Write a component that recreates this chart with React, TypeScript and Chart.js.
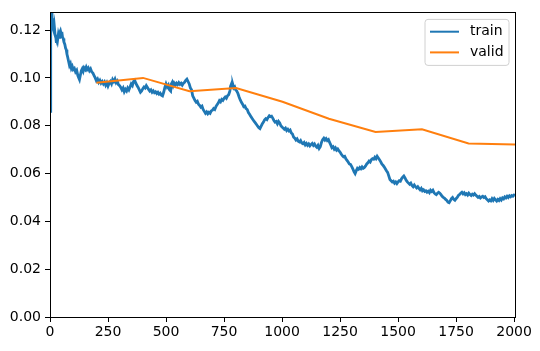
import React, { useEffect, useRef } from "react";
import { Chart, registerables } from "chart.js";

Chart.register(...registerables);

const trainSteps = [
  0, 2, 4, 6, 8, 10, 12, 14, 17, 19, 22, 25, 27, 30, 33, 36, 39, 42, 45, 48, 51, 54, 57, 60,
  64, 67, 70, 73, 76, 80, 84, 88, 92, 96, 100, 105, 110, 115, 120, 124, 127, 131, 135, 139, 143, 147,
  152, 156, 160, 165, 170, 175, 180, 185, 190, 195, 200, 205, 210, 215, 220, 225, 230, 235, 240, 245,
  250, 255, 260, 265, 270, 275, 280, 285, 290, 295, 300, 305, 310, 315, 320, 325, 330, 335, 340, 345,
  350, 355, 360, 365, 370, 375, 380, 385, 390, 395, 400, 405, 410, 415, 420, 425, 430, 435, 440, 445,
  450, 455, 460, 465, 470, 475, 480, 485, 490, 495, 500, 505, 510, 515, 520, 523, 527, 531, 535, 540,
  545, 550, 555, 560, 565, 570, 575, 580, 585, 590, 595, 600, 605, 610, 615, 620, 625, 630, 635, 640,
  645, 650, 655, 660, 665, 670, 675, 680, 685, 690, 695, 700, 705, 710, 715, 720, 725, 730, 735, 740,
  745, 750, 755, 760, 765, 770, 775, 778, 782, 785, 788, 792, 796, 800, 805, 810, 815, 820, 825, 830,
  835, 840, 845, 850, 855, 860, 865, 870, 875, 880, 885, 890, 895, 900, 905, 910, 915, 920, 925, 930,
  935, 940, 945, 950, 955, 960, 965, 970, 975, 980, 985, 990, 995, 1000, 1005, 1010, 1015, 1020, 1025,
  1030, 1035, 1040, 1045, 1050, 1055, 1060, 1065, 1070, 1075, 1080, 1085, 1090, 1095, 1100, 1105, 1110,
  1115, 1120, 1125, 1130, 1135, 1140, 1145, 1150, 1155, 1160, 1165, 1170, 1175, 1180, 1185, 1190, 1195,
  1200, 1205, 1210, 1215, 1220, 1225, 1230, 1235, 1240, 1245, 1250, 1255, 1260, 1265, 1270, 1275, 1280,
  1285, 1290, 1295, 1300, 1305, 1310, 1315, 1320, 1325, 1330, 1335, 1340, 1345, 1350, 1355, 1360, 1365,
  1370, 1375, 1380, 1385, 1390, 1395, 1400, 1405, 1410, 1415, 1420, 1425, 1430, 1435, 1440, 1445, 1450,
  1455, 1460, 1465, 1470, 1475, 1480, 1485, 1490, 1495, 1500, 1505, 1510, 1515, 1520, 1525, 1530, 1535,
  1540, 1545, 1550, 1555, 1560, 1565, 1570, 1575, 1580, 1585, 1590, 1595, 1600, 1605, 1610, 1615, 1620,
  1625, 1630, 1635, 1640, 1645, 1650, 1655, 1660, 1665, 1670, 1675, 1680, 1685, 1690, 1695, 1700, 1705,
  1710, 1715, 1720, 1725, 1730, 1735, 1740, 1745, 1750, 1755, 1760, 1765, 1770, 1775, 1780, 1785, 1790,
  1795, 1800, 1805, 1810, 1815, 1820, 1825, 1830, 1835, 1840, 1845, 1850, 1855, 1860, 1865, 1870, 1875,
  1880, 1885, 1890, 1895, 1900, 1905, 1910, 1915, 1920, 1925, 1930, 1935, 1940, 1945, 1950, 1955, 1960,
  1965, 1970, 1975, 1980, 1985, 1990, 1995, 2000, 2004,
];

const trainLoss = [
  0.0860, 0.1080, 0.1285, 0.1240, 0.1290, 0.1225, 0.1250, 0.1205, 0.1195, 0.1212, 0.1180, 0.1170,
  0.1152, 0.1175, 0.1160, 0.1182, 0.1170, 0.1190, 0.1197, 0.1185, 0.1192, 0.1170, 0.1165, 0.1150,
  0.1140, 0.1125, 0.1118, 0.1100, 0.1088, 0.1070, 0.1052, 0.1060, 0.1040, 0.1048, 0.1035, 0.1040,
  0.1025, 0.1032, 0.1010, 0.1000, 0.0993, 0.1012, 0.1030, 0.1038, 0.1028, 0.1042, 0.1035, 0.1045,
  0.1035, 0.1042, 0.1030, 0.1038, 0.1025, 0.1020, 0.1010, 0.1000, 0.0988, 0.0995, 0.0982, 0.0990,
  0.0978, 0.0985, 0.0975, 0.0983, 0.0970, 0.0980, 0.0966, 0.0978, 0.0985, 0.0975, 0.0993, 0.0985,
  0.0995, 0.0980, 0.0987, 0.0972, 0.0968, 0.0960, 0.0950, 0.0958, 0.0942, 0.0952, 0.0945, 0.0958,
  0.0950, 0.0962, 0.0975, 0.0968, 0.0985, 0.0990, 0.0978, 0.0968, 0.0960, 0.0950, 0.0940, 0.0945,
  0.0955, 0.0962, 0.0958, 0.0968, 0.0960, 0.0952, 0.0945, 0.0950, 0.0940, 0.0946, 0.0938, 0.0942,
  0.0935, 0.0940, 0.0932, 0.0936, 0.0928, 0.0925, 0.0940, 0.0960, 0.0975, 0.0962, 0.0970, 0.0950,
  0.0945, 0.0975, 0.0982, 0.0968, 0.0978, 0.0970, 0.0978, 0.0972, 0.0980, 0.0973, 0.0978, 0.0970,
  0.0978, 0.0982, 0.0990, 0.0995, 0.0985, 0.0975, 0.0958, 0.0950, 0.0925, 0.0915, 0.0905, 0.0898,
  0.0902, 0.0890, 0.0885, 0.0878, 0.0882, 0.0868, 0.0860, 0.0852, 0.0858, 0.0850, 0.0856, 0.0852,
  0.0862, 0.0865, 0.0872, 0.0868, 0.0880, 0.0888, 0.0895, 0.0905, 0.0900, 0.0910, 0.0906, 0.0915,
  0.0920, 0.0915, 0.0925, 0.0930, 0.0945, 0.0965, 0.0975, 0.0962, 0.0972, 0.0958, 0.0962, 0.0950,
  0.0945, 0.0935, 0.0920, 0.0908, 0.0898, 0.0890, 0.0880, 0.0882, 0.0872, 0.0868, 0.0855, 0.0848,
  0.0840, 0.0832, 0.0825, 0.0818, 0.0812, 0.0805, 0.0798, 0.0792, 0.0788, 0.0798, 0.0808, 0.0815,
  0.0825, 0.0830, 0.0826, 0.0835, 0.0842, 0.0838, 0.0840, 0.0832, 0.0822, 0.0815, 0.0818, 0.0808,
  0.0818, 0.0812, 0.0800, 0.0795, 0.0790, 0.0785, 0.0790, 0.0780, 0.0785, 0.0778, 0.0782, 0.0770,
  0.0765, 0.0752, 0.0748, 0.0740, 0.0745, 0.0735, 0.0732, 0.0738, 0.0728, 0.0725, 0.0730, 0.0720,
  0.0726, 0.0718, 0.0724, 0.0716, 0.0722, 0.0726, 0.0718, 0.0724, 0.0715, 0.0710, 0.0718, 0.0705,
  0.0712, 0.0730, 0.0742, 0.0748, 0.0740, 0.0746, 0.0738, 0.0742, 0.0730, 0.0720, 0.0708, 0.0712,
  0.0702, 0.0708, 0.0698, 0.0703, 0.0695, 0.0690, 0.0682, 0.0675, 0.0670, 0.0672, 0.0662, 0.0655,
  0.0648, 0.0640, 0.0638, 0.0630, 0.0620, 0.0608, 0.0600, 0.0612, 0.0622, 0.0618, 0.0625, 0.0620,
  0.0628, 0.0622, 0.0625, 0.0632, 0.0640, 0.0645, 0.0652, 0.0648, 0.0658, 0.0662, 0.0660, 0.0668,
  0.0662, 0.0672, 0.0665, 0.0658, 0.0650, 0.0640, 0.0635, 0.0628, 0.0620, 0.0612, 0.0605, 0.0590,
  0.0575, 0.0570, 0.0565, 0.0568, 0.0560, 0.0565, 0.0558, 0.0565, 0.0570, 0.0568, 0.0578, 0.0585,
  0.0590, 0.0582, 0.0572, 0.0565, 0.0560, 0.0555, 0.0560, 0.0550, 0.0545, 0.0552, 0.0545, 0.0540,
  0.0545, 0.0538, 0.0532, 0.0538, 0.0528, 0.0532, 0.0525, 0.0528, 0.0522, 0.0526, 0.0520, 0.0530,
  0.0525, 0.0530, 0.0520, 0.0515, 0.0512, 0.0518, 0.0522, 0.0518, 0.0512, 0.0505, 0.0500, 0.0497,
  0.0492, 0.0488, 0.0480, 0.0478, 0.0486, 0.0495, 0.0500, 0.0492, 0.0488, 0.0495, 0.0500, 0.0508,
  0.0512, 0.0518, 0.0522, 0.0515, 0.0520, 0.0512, 0.0516, 0.0510, 0.0518, 0.0512, 0.0508, 0.0514,
  0.0510, 0.0516, 0.0510, 0.0505, 0.0500, 0.0504, 0.0498, 0.0502, 0.0505, 0.0500, 0.0503, 0.0495,
  0.0490, 0.0485, 0.0490, 0.0486, 0.0495, 0.0488, 0.0496, 0.0490, 0.0485, 0.0492, 0.0487, 0.0495,
  0.0489, 0.0498, 0.0494, 0.0502, 0.0498, 0.0505, 0.0500, 0.0507, 0.0503, 0.0508, 0.0505, 0.0510,
  0.0508,
];

const validSteps = [200, 401, 601, 802, 1002, 1202, 1403, 1603, 1804, 2004];
const validLoss = [0.098, 0.1, 0.0944, 0.0958, 0.09, 0.0829, 0.0774, 0.0785, 0.0726, 0.0722];

const xTicks = [0, 250, 500, 750, 1000, 1250, 1500, 1750, 2000];
const yTicks = [0, 0.02, 0.04, 0.06, 0.08, 0.1, 0.12];

const X_MAX = 2004;
const Y_MAX = 0.1274;
const FONT = "'DejaVu Sans', sans-serif";

const framePlugin = {
  id: "frame",
  afterDatasetsDraw(chart: any) {
    const { ctx, chartArea } = chart;
    ctx.save();
    ctx.strokeStyle = "#000";
    ctx.lineWidth = 1;
    const l = Math.round(chartArea.left) + 0.5;
    const t = Math.round(chartArea.top) + 0.5;
    const r = Math.round(chartArea.right) + 0.5;
    const b = Math.round(chartArea.bottom) + 0.5;
    ctx.strokeRect(l, t, r - l, b - t);
    ctx.restore();
  },
};

const legendPlugin = {
  id: "mplLegend",
  afterDraw(chart: any) {
    const { ctx, chartArea } = chart;
    const boxW = 84;
    const boxH = 46;
    const x0 = chartArea.right - 6 - boxW;
    const y0 = chartArea.top + 7;
    ctx.save();
    ctx.beginPath();
    const rr = 3;
    ctx.moveTo(x0 + rr, y0);
    ctx.arcTo(x0 + boxW, y0, x0 + boxW, y0 + boxH, rr);
    ctx.arcTo(x0 + boxW, y0 + boxH, x0, y0 + boxH, rr);
    ctx.arcTo(x0, y0 + boxH, x0, y0, rr);
    ctx.arcTo(x0, y0, x0 + boxW, y0, rr);
    ctx.closePath();
    ctx.fillStyle = "rgba(255,255,255,0.8)";
    ctx.fill();
    ctx.strokeStyle = "#d0d0d0";
    ctx.lineWidth = 1;
    ctx.stroke();
    chart.data.datasets.forEach((ds: any, i: number) => {
      const y = y0 + 12.3 + i * 20.7;
      ctx.beginPath();
      ctx.strokeStyle = ds.borderColor;
      ctx.lineWidth = 2;
      ctx.moveTo(x0 + 5, y);
      ctx.lineTo(x0 + 34, y);
      ctx.stroke();
      ctx.fillStyle = "#000";
      ctx.font = `14px ${FONT}`;
      ctx.textBaseline = "middle";
      ctx.textAlign = "left";
      ctx.fillText(ds.label, x0 + 45, y);
    });
    ctx.restore();
  },
};

export default function App() {
  const ref = useRef<HTMLCanvasElement | null>(null);

  useEffect(() => {
    document.body.style.margin = "0";
    const canvas = ref.current;
    if (!canvas) return;
    const chart = new Chart(canvas, {
      type: "line",
      data: {
        datasets: [
          {
            label: "train",
            data: trainSteps.map((s, i) => ({ x: s, y: trainLoss[i] })),
            borderColor: "#1f77b4",
            backgroundColor: "#1f77b4",
            borderWidth: 2.8,
            pointRadius: 0,
            tension: 0,
            order: 2,
          },
          {
            label: "valid",
            data: validSteps.map((s, i) => ({ x: s, y: validLoss[i] })),
            borderColor: "#ff7f0e",
            backgroundColor: "#ff7f0e",
            borderWidth: 2,
            pointRadius: 0,
            tension: 0,
            order: 1,
          },
        ],
      },
      options: {
        responsive: false,
        animation: false,
        devicePixelRatio: 1,
        layout: { padding: { top: 9, right: 25, left: 0, bottom: 0 } },
        plugins: {
          legend: { display: false },
          tooltip: { enabled: false },
        },
        scales: {
          x: {
            type: "linear",
            min: 0,
            max: X_MAX,
            afterBuildTicks: (scale: any) => {
              scale.ticks = xTicks.map((v) => ({ value: v }));
            },
            afterFit: (scale: any) => {
              scale.height = 34;
            },
            ticks: {
              color: "#000",
              font: { family: FONT, size: 14 },
              padding: 2,
              maxRotation: 0,
              autoSkip: false,
              callback: (v: any) => String(v),
            },
            grid: {
              drawOnChartArea: false,
              drawTicks: true,
              tickLength: 5,
              tickColor: "#000",
              tickWidth: 1,
            },
            border: { display: true, color: "#000", width: 1 },
          },
          y: {
            type: "linear",
            min: 0,
            max: Y_MAX,
            afterBuildTicks: (scale: any) => {
              scale.ticks = yTicks.map((v) => ({ value: v }));
            },
            afterFit: (scale: any) => {
              scale.width = 50;
            },
            ticks: {
              color: "#000",
              font: { family: FONT, size: 14 },
              padding: 4,
              autoSkip: false,
              callback: (v: any) => Number(v).toFixed(2),
            },
            grid: {
              drawOnChartArea: false,
              drawTicks: true,
              tickLength: 5,
              tickColor: "#000",
              tickWidth: 1,
            },
            border: { display: true, color: "#000", width: 1 },
          },
        },
      },
      plugins: [framePlugin, legendPlugin],
    });
    return () => chart.destroy();
  }, []);

  return (
    <div style={{ position: "absolute", left: 0, top: 0, width: 540, height: 351, background: "#fff" }}>
      <canvas ref={ref} width={540} height={351} />
    </div>
  );
}
